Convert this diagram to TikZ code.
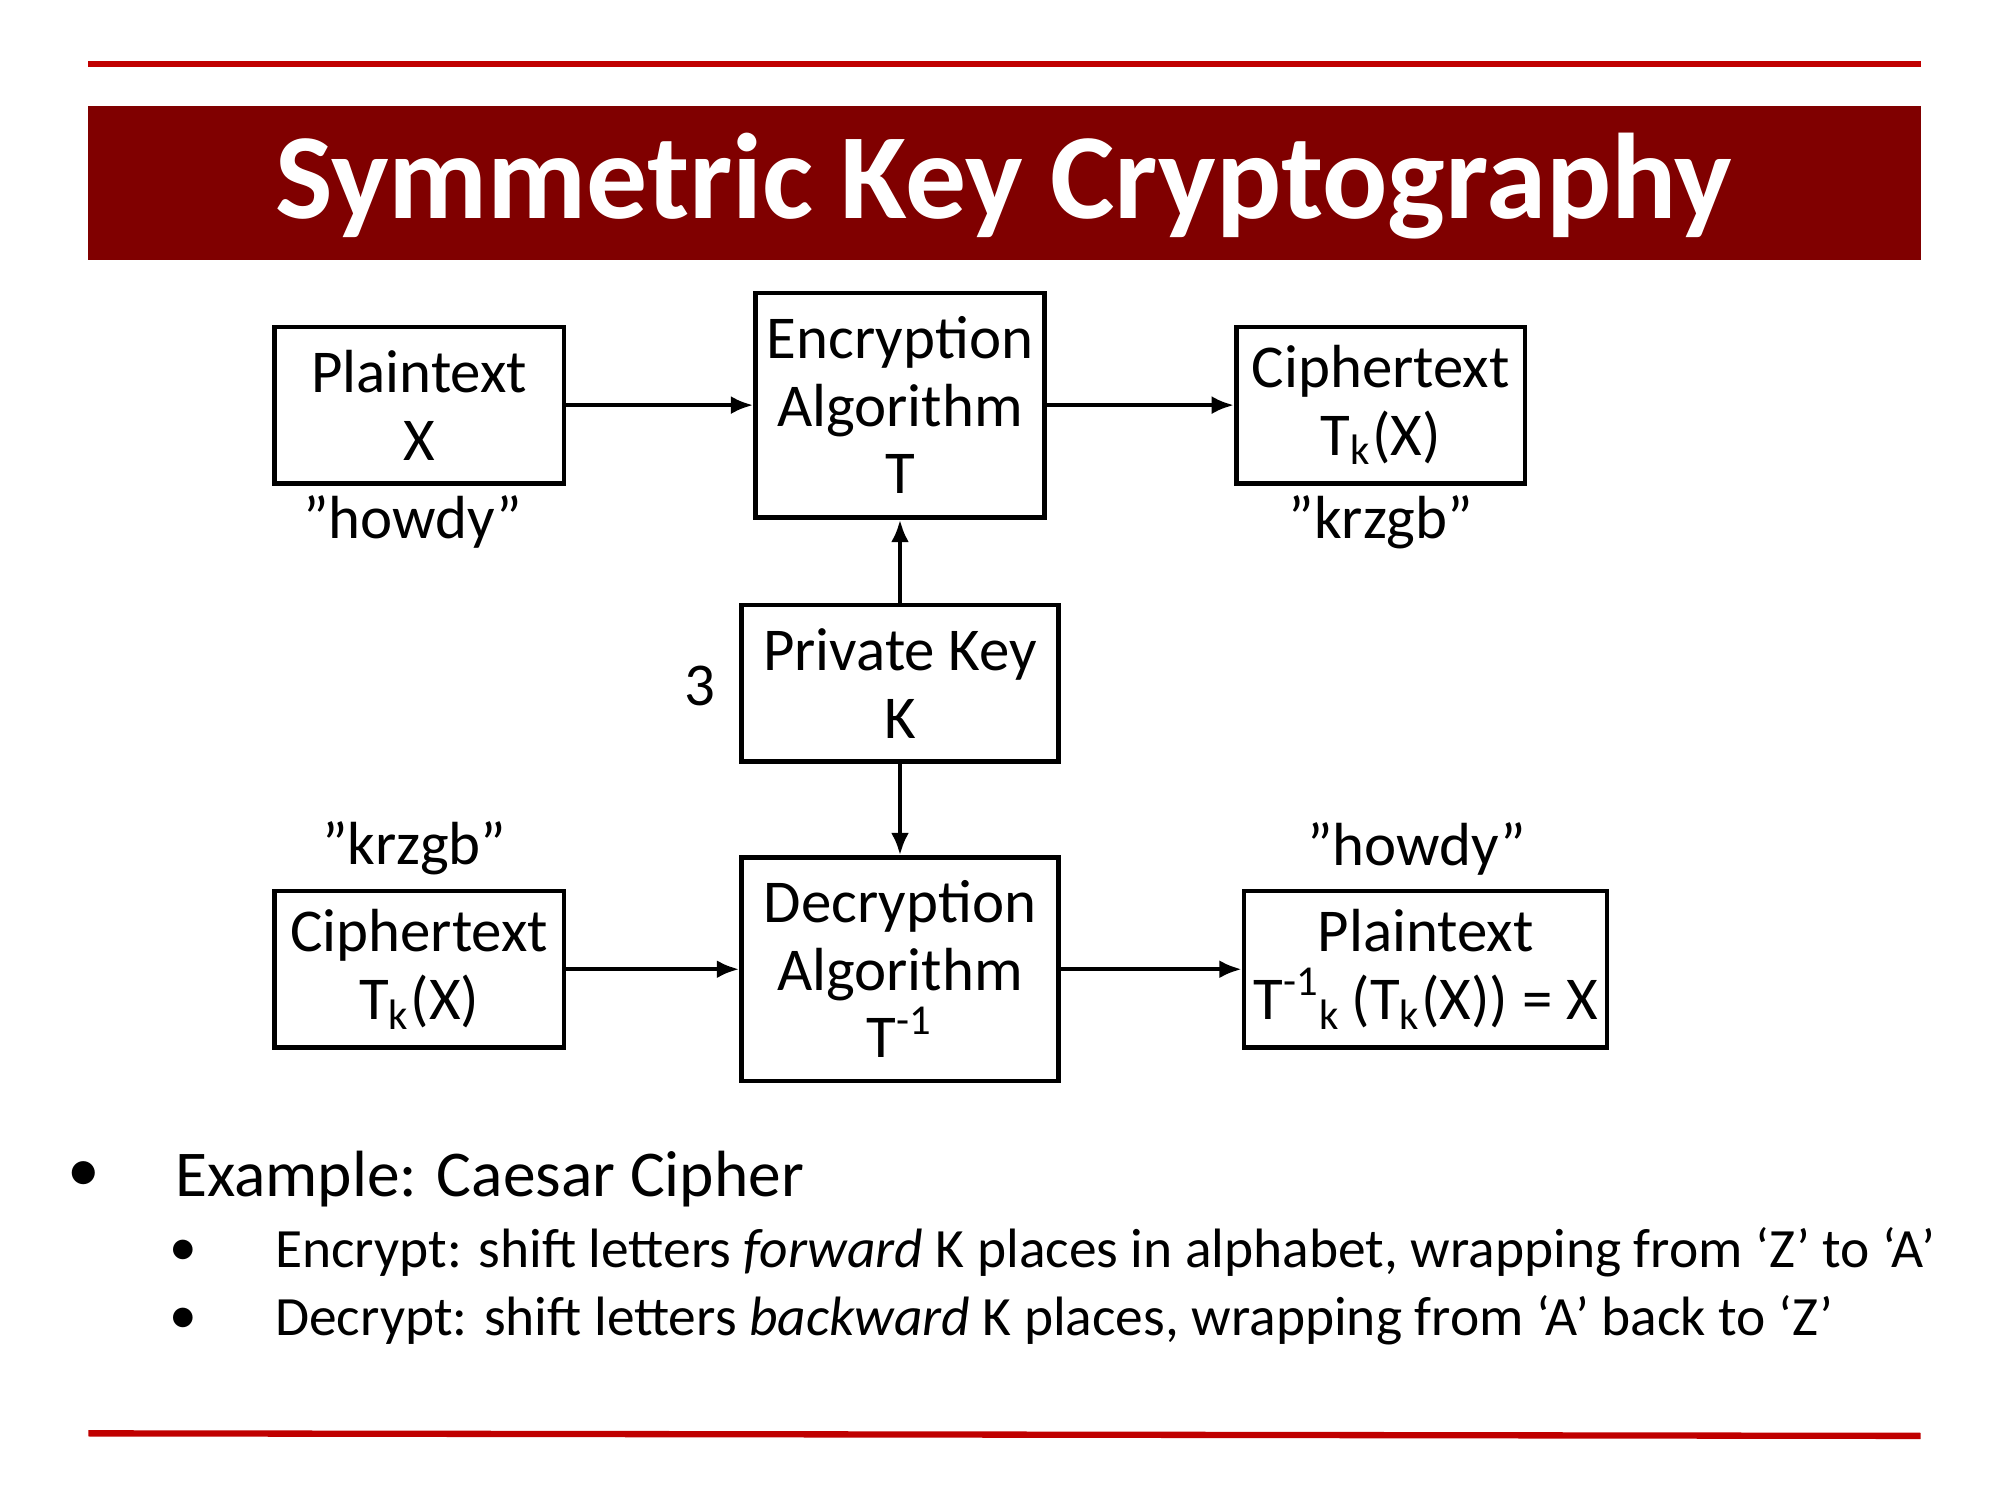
\documentclass[tikz,border=0pt]{standalone}
\usepackage{fontspec}
\setmainfont{Carlito}
\usetikzlibrary{arrows.meta}
\definecolor{titlered}{HTML}{800000}
\definecolor{linered}{HTML}{C00000}
\begin{document}
\begin{tikzpicture}[
    x=0.01cm, y=-0.01cm,
    box/.style={
        rectangle,
        draw=black,
        line width=1pt,
        align=center,
        inner sep=0pt,
        font=\fontsize{13.5}{15}\selectfont
    },
    lbl/.style={
        font=\fontsize{13.5}{15}\selectfont
    },
    arr/.style={
        -{Latex[length=5pt,width=4pt]},
        line width=1pt
    }
]
\useasboundingbox (0,0) rectangle (1560,1170);

% Frame
\draw[linered, line width=1.4pt] (69,50) -- (1498,50);
\draw[linered, line width=1.4pt] (69,1118) -- (1498,1120);
\fill[titlered] (69,83) rectangle (1498,203);
\node[text=white, font=\fontsize{27}{30}\selectfont\bfseries] (title) at (783,145) {Symmetric Key Cryptography};

% Encryption row
\node[box, minimum width=0.226cm*10, minimum height=0.122cm*10] (plain) at (327,316) {Plaintext\\X};
\node[box, minimum width=0.225cm*10, minimum height=0.175cm*10] (enc) at (702,316) {Encryption\\Algorithm\\T};
\node[box, minimum width=0.225cm*10, minimum height=0.122cm*10] (cipher) at (1077,316) {Ciphertext\\T\textsubscript{k}(X)};

% Key
\node[box, minimum width=0.247cm*10, minimum height=0.122cm*10] (key) at (702,533) {Private Key\\K};

% Decryption row
\node[box, minimum width=0.226cm*10, minimum height=0.122cm*10] (cipher2) at (327,756) {Ciphertext\\T\textsubscript{k}(X)};
\node[box, minimum width=0.247cm*10, minimum height=0.174cm*10] (dec) at (702,756) {Decryption\\Algorithm\\T\textsuperscript{-1}};
\node[box, minimum width=0.283cm*10, minimum height=0.122cm*10] (plain2) at (1112,756) {Plaintext\\T\textsuperscript{-1}\textsubscript{k}\,(T\textsubscript{k}(X)) = X};

% Labels
\node[lbl] (howdy) at (322,407) {"howdy"};
\node[lbl] (krzgb) at (1077,407) {"krzgb"};
\node[lbl] (three) at (546,535) {3};
\node[lbl] (krzgb2) at (323,662) {"krzgb"};
\node[lbl] (howdy2) at (1105,662) {"howdy"};

% Arrows
\draw[arr] (plain) -- (enc);
\draw[arr] (enc) -- (cipher);
\draw[arr] (key) -- (enc);
\draw[arr] (key) -- (dec);
\draw[arr] (cipher2) -- (dec);
\draw[arr] (dec) -- (plain2);

% Bullets
\node[font=\fontsize{14.5}{16}\selectfont] (b1) at (65,918) {•};
\node[anchor=west, inner sep=0pt, font=\fontsize{14.5}{16}\selectfont] (ex) at (136,920) {Example: Caesar Cipher};
\node[font=\fontsize{12.3}{14}\selectfont] (b2) at (143,977) {•};
\node[anchor=west, inner sep=0pt, font=\fontsize{12.3}{14}\selectfont] (encr) at (214,977) {Encrypt: shift letters \textit{forward} K places in alphabet, wrapping from ‘Z’ to ‘A’};
\node[font=\fontsize{12.3}{14}\selectfont] (b3) at (143,1030) {•};
\node[anchor=west, inner sep=0pt, font=\fontsize{12.3}{14}\selectfont] (decr) at (214,1030) {Decrypt: shift letters \textit{backward} K places, wrapping from ‘A’ back to ‘Z’};
\end{tikzpicture}
\end{document}
